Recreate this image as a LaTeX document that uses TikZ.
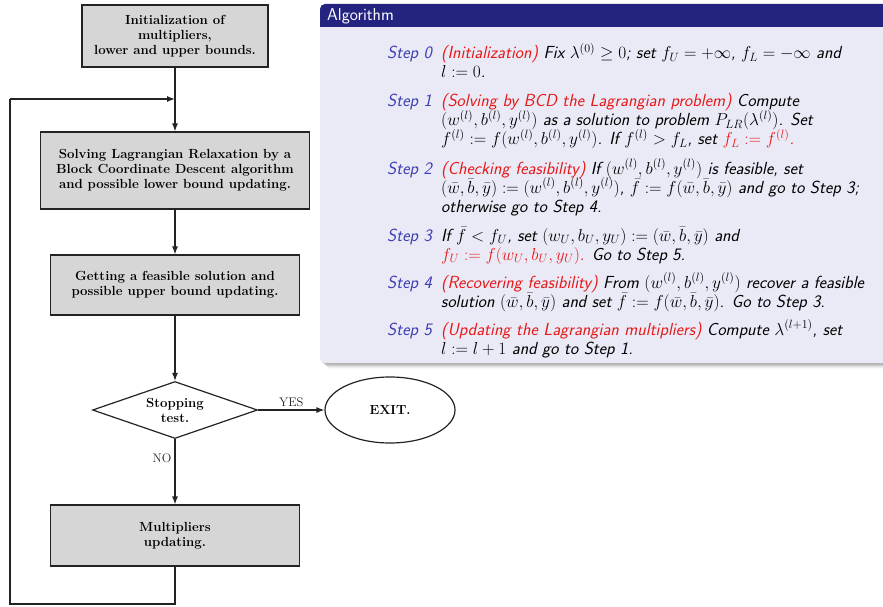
\documentclass[tikz,border=0pt]{standalone}
\usetikzlibrary{arrows.meta,shapes.geometric}
\definecolor{boxgray}{RGB}{214,214,214}
\definecolor{hdr}{RGB}{36,36,128}
\definecolor{bodyc}{RGB}{234,234,246}
\definecolor{stepc}{RGB}{60,60,180}
\definecolor{alertc}{RGB}{230,25,25}
\definecolor{ink}{RGB}{35,35,35}
\newcommand\flowfont{\fontsize{13.2}{15}\selectfont\bfseries}
\newcommand\algfont{\fontsize{17.5}{19}\selectfont\sffamily\itshape}
\newcommand\alrt[1]{\textcolor{alertc}{#1}}
\begin{document}
\begin{tikzpicture}[x=1pt,y=-1pt,
  fbox/.style={draw=ink,line width=1.2pt,fill=boxgray,align=center,font=\flowfont,inner sep=0pt},
  conn/.style={draw=ink,line width=1.2pt},
  arr/.style={conn,-{Latex[length=8pt,width=6pt]}},
  lbl/.style={font=\fontsize{12.5}{14}\selectfont,text=ink,inner sep=0pt},
  algtxt/.style={anchor=base west,inner sep=0pt,font=\algfont},
  steplab/.style={algtxt,text=stepc}]
\useasboundingbox (0,0) rectangle (883,607);
% ---------- Algorithm block ----------
\foreach \i/\o in {1/0.10,2/0.09,3/0.08,4/0.06,5/0.04,6/0.02}
  \fill[black,opacity=\o,rounded corners=5pt] (320+\i,8+\i) rectangle (900,363+\i);
\fill[bodyc,rounded corners=5pt] (320,15) rectangle (900,363);
\fill[hdr,rounded corners=5pt] (320,4) rectangle (900,20);
\fill[hdr] (320,12) rectangle (900,27);
\node[anchor=base west,inner sep=0pt,text=white,font=\fontsize{17.2}{19}\selectfont\sffamily] (title) at (327,21) {Algorithm};
% Step 0
\node[steplab] (l0) at (387,59) {Step 0};
\node[algtxt] (s0a) at (441,59) {\alrt{(Initialization)} Fix $\lambda^{(0)}\geq 0$; set $f_U=+\infty$, $f_L=-\infty$ and};
\node[algtxt] (s0b) at (441,78) {$l:=0$.};
% Step 1
\node[steplab] (l1) at (387,107) {Step 1};
\node[algtxt] (s1a) at (441,107) {\alrt{(Solving by BCD the Lagrangian problem)} Compute};
\node[algtxt] (s1b) at (441,126) {$(w^{(l)},b^{(l)},y^{(l)})$ as a solution to problem $P_{LR}(\lambda^{(l)})$. Set};
\node[algtxt] (s1c) at (441,145) {$f^{(l)}:=f(w^{(l)},b^{(l)},y^{(l)})$. If $f^{(l)}>f_L$, set \alrt{$f_L:=f^{(l)}$.}};
% Step 2
\node[steplab] (l2) at (387,174) {Step 2};
\node[algtxt] (s2a) at (441,174) {\alrt{(Checking feasibility)} If $(w^{(l)},b^{(l)},y^{(l)})$ is feasible, set};
\node[algtxt] (s2b) at (441,193) {$(\bar w,\bar b,\bar y):=(w^{(l)},b^{(l)},y^{(l)})$, $\bar f:=f(\bar w,\bar b,\bar y)$ and go to Step 3;};
\node[algtxt] (s2c) at (441,212) {otherwise go to Step 4.};
% Step 3
\node[steplab] (l3) at (387,241) {Step 3};
\node[algtxt] (s3a) at (441,241) {If $\bar f<f_U$, set $(w_U,b_U,y_U):=(\bar w,\bar b,\bar y)$ and};
\node[algtxt] (s3b) at (441,260) {\alrt{$f_U:=f(w_U,b_U,y_U)$.} Go to Step 5.};
% Step 4
\node[steplab] (l4) at (387,288) {Step 4};
\node[algtxt] (s4a) at (441,288) {\alrt{(Recovering feasibility)} From $(w^{(l)},b^{(l)},y^{(l)})$ recover a feasible};
\node[algtxt] (s4b) at (441,307) {solution $(\bar w,\bar b,\bar y)$ and set $\bar f:=f(\bar w,\bar b,\bar y)$. Go to Step 3.};
% Step 5
\node[steplab] (l5) at (387,335) {Step 5};
\node[algtxt] (s5a) at (441,335) {\alrt{(Updating the Lagrangian multipliers)} Compute $\lambda^{(l+1)}$, set};
\node[algtxt] (s5b) at (441,354) {$l:=l+1$ and go to Step 1.};
% ---------- Flowchart ----------
\node[fbox,minimum width=186pt,minimum height=62pt] (init) at (175,36) {Initialization of\\multipliers,\\lower and upper bounds.};
\node[fbox,minimum width=269pt,minimum height=77pt] (lr) at (175,170.5) {Solving Lagrangian Relaxation by a\\Block Coordinate Descent algorithm\\and possible lower bound updating.};
\node[fbox,minimum width=249pt,minimum height=60pt] (feas) at (175,285) {Getting a feasible solution and\\possible upper bound updating.};
\node[draw=ink,line width=1.2pt,fill=white,diamond,aspect=2.9,minimum width=165pt,minimum height=57pt,inner sep=0pt,align=center,font=\flowfont] (stop) at (175,410) {Stopping\\test.};
\node[draw=ink,line width=1.2pt,ellipse,minimum width=130pt,minimum height=66pt,inner sep=0pt,font=\flowfont] (exit) at (390,410) {EXIT.};
\node[fbox,minimum width=249pt,minimum height=61pt] (mult) at (175,535.5) {Multipliers\\updating.};
\coordinate (join) at (175,99);
\coordinate (bl) at (10,604);
\coordinate (br) at (175,604);
\coordinate (tl) at (10,99);
\draw[conn] (init.south) -- (join);
\draw[arr] (join) -- (lr.north);
\draw[arr] (lr.south) -- (feas.north);
\draw[arr] (feas.south) -- (stop.north);
\draw[arr] (stop.east) -- node[lbl,above=3pt] (yes) {YES} (exit.west);
\draw[arr] (stop.south) -- node[lbl,pos=0.3,left=3pt] (no) {NO} (mult.north);
\draw[conn] (mult.south) -- (br) -- (bl) -- (tl);
\draw[arr] (tl) -- (join);
\end{tikzpicture}
\end{document}
